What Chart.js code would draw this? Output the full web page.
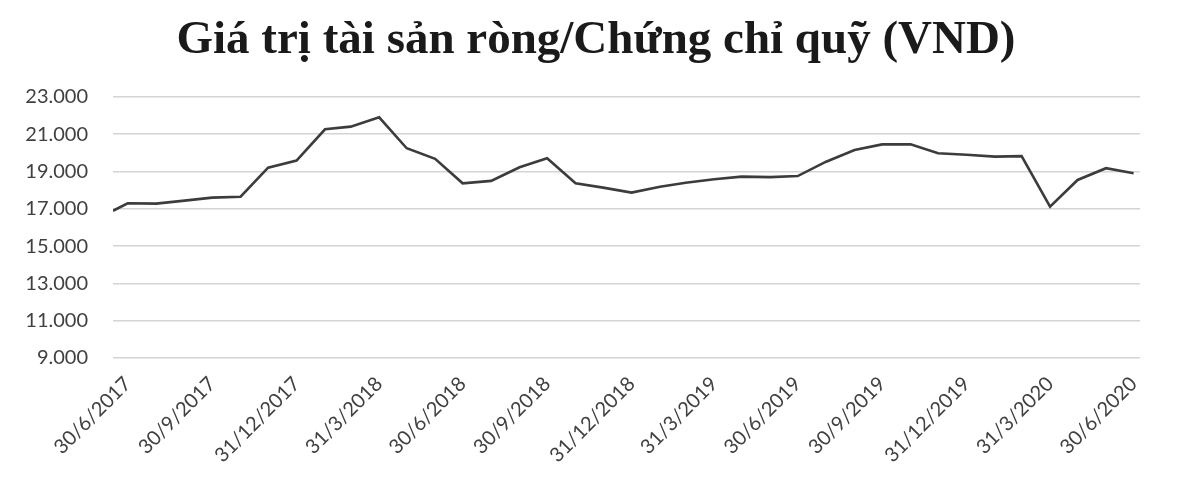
<!DOCTYPE html>
<html>
<head>
<meta charset="utf-8">
<script src="https://cdn.jsdelivr.net/npm/chart.js@4/dist/chart.umd.min.js"></script>
<style>
  html,body{margin:0;padding:0;background:#fff;}
  #wrap{width:1181px;height:487px;}
</style>
</head>
<body>
<div id="wrap"><canvas id="navChart" width="1181" height="487"></canvas></div>
<script>
// NAV per fund certificate, first value at launch then month ends
const dates = ['14/6/2017',
  '30/6/2017','31/7/2017','31/8/2017','30/9/2017','31/10/2017','30/11/2017','31/12/2017',
  '31/1/2018','28/2/2018','31/3/2018','30/4/2018','31/5/2018','30/6/2018','31/7/2018',
  '31/8/2018','30/9/2018','31/10/2018','30/11/2018','31/12/2018','31/1/2019','28/2/2019',
  '31/3/2019','30/4/2019','31/5/2019','30/6/2019','31/7/2019','31/8/2019','30/9/2019',
  '31/10/2019','30/11/2019','31/12/2019','31/1/2020','29/2/2020','31/3/2020','30/4/2020',
  '31/5/2020','30/6/2020'];
const nav = [16900,
  17300,17280,17440,17600,17650,19210,19590,
  21270,21410,21910,20250,19680,18370,18500,
  19230,19710,18370,18140,17870,18190,18400,
  18590,18730,18700,18760,19530,20160,20460,
  20460,19980,19900,19800,19830,17120,18550,
  19180,18910];
const tickDates = ['30/6/2017','30/9/2017','31/12/2017','31/3/2018','30/6/2018','30/9/2018',
  '31/12/2018','31/3/2019','30/6/2019','30/9/2019','31/12/2019','31/3/2020','30/6/2020'];
const yTicks = [9000,11000,13000,15000,17000,19000,21000,23000];
const chartTitle = 'Giá trị tài sản ròng/Chứng chỉ quỹ (VND)';

function toDay(s){
  const p = s.split('/').map(Number);
  return Date.UTC(p[2],p[1]-1,p[0])/86400000;
}
function fmt(v){
  return String(v).replace(/\B(?=(\d{3})+(?!\d))/g,'.');
}

// title is a bit right of the canvas centre in the original
const titlePlugin = {
  id:'offsetTitle',
  afterDraw(chart){
    const ctx = chart.ctx;
    ctx.save();
    ctx.font = "bold 47px 'Liberation Serif', 'DejaVu Serif', serif";
    ctx.fillStyle = '#1a1a1a';
    ctx.textAlign = 'center';
    ctx.textBaseline = 'alphabetic';
    ctx.fillText(chartTitle, 596, 53);
    ctx.restore();
  }
};

const points = dates.map((d,i)=>({x:toDay(d),y:nav[i]}));
const tickFont = {family:"Lato, 'Open Sans', sans-serif",size:20};
const textColor = '#404040';

new Chart(document.getElementById('navChart').getContext('2d'),{
  type:'line',
  data:{datasets:[{
    data:points,
    borderColor:'#3c3c3c',borderWidth:2.6,
    pointRadius:0,tension:0,fill:false
  }]},
  options:{
    responsive:false,animation:false,
    layout:{padding:{left:0,right:41,top:97,bottom:0}},
    plugins:{
      legend:{display:false},
      tooltip:{enabled:false},
      title:{display:false}
    },
    scales:{
      x:{
        type:'linear',
        min:toDay(dates[0]),max:toDay(dates[dates.length-1])+7,
        afterBuildTicks:s=>{s.ticks = tickDates.map(d=>({value:toDay(d)}));},
        afterFit:s=>{s.height = 129;},
        grid:{display:false,drawTicks:false},
        border:{display:false},
        ticks:{autoSkip:false,minRotation:45,maxRotation:45,padding:14,color:textColor,font:tickFont,
          callback:(v,i)=>tickDates[i]}
      },
      y:{
        min:9000,max:23000,
        afterBuildTicks:s=>{s.ticks = yTicks.map(v=>({value:v}));},
        afterFit:s=>{s.width = 113;},
        grid:{color:'#d4d4d4',lineWidth:1.6,drawTicks:false},
        border:{display:false},
        ticks:{padding:25,color:textColor,font:tickFont,callback:v=>fmt(v)}
      }
    }
  },
  plugins:[titlePlugin]
});
</script>
</body>
</html>
